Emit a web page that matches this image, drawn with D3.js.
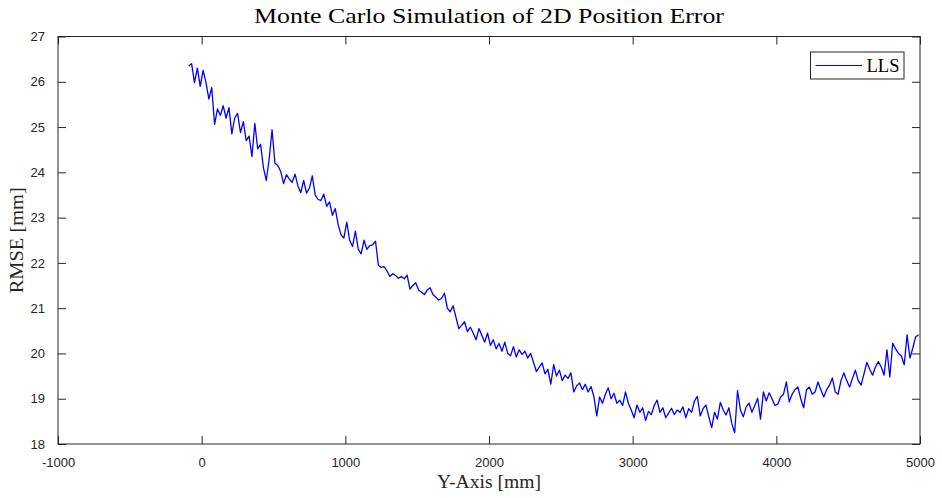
<!DOCTYPE html>
<html>
<head>
<meta charset="utf-8">
<script src="https://cdn.jsdelivr.net/npm/d3@7"></script>
<style>
  html, body { margin: 0; padding: 0; background: #fff; }
  svg { display: block; }
</style>
</head>
<body>
<svg id="chart" width="942" height="498"></svg>
<script>
// ---- Data ----
const titleText = "Monte Carlo Simulation of 2D Position Error";
const xLabelText = "Y-Axis [mm]";
const yLabelText = "RMSE [mm]";
const seriesName = "LLS";
const xTicks = [-1000, 0, 1000, 2000, 3000, 4000, 5000];
const yTicks = [18, 19, 20, 21, 22, 23, 24, 25, 26, 27];
const xStart = -90;
const xStep = 20;
const rmseValues = [
  26.35, 26.40, 25.98, 26.30, 25.90, 26.25, 25.98, 25.62, 25.87, 25.06,
  25.40, 25.26, 25.47, 25.20, 25.43, 24.85, 25.20, 25.30, 24.88, 25.12,
  24.70, 24.80, 24.35, 25.08, 24.52, 24.62, 24.10, 23.82, 24.30, 24.94,
  24.20, 24.15, 24.02, 23.75, 23.95, 23.85, 23.78, 23.96, 23.70, 23.55,
  23.82, 23.54, 23.65, 23.92, 23.50, 23.40, 23.38, 23.52, 23.25, 23.35,
  23.05, 23.20, 22.85, 22.62, 22.55, 22.90, 22.50, 22.36, 22.70, 22.30,
  22.20, 22.50, 22.30, 22.38, 22.40, 22.48, 21.95, 21.90, 21.92, 21.82,
  21.70, 21.76, 21.72, 21.66, 21.70, 21.65, 21.73, 21.42, 21.50, 21.56,
  21.40, 21.35, 21.30, 21.40, 21.45, 21.30, 21.24, 21.18, 21.22, 21.33,
  21.00, 20.92, 21.05, 20.80, 20.55, 20.62, 20.70, 20.48, 20.58, 20.45,
  20.30, 20.55, 20.40, 20.25, 20.45, 20.18, 20.30, 20.10, 20.22, 20.05,
  20.25, 20.00, 19.95, 20.15, 19.92, 20.08, 19.98, 20.05, 19.90, 20.00,
  19.80, 19.60, 19.70, 19.79, 19.55, 19.65, 19.32, 19.75, 19.50, 19.63,
  19.40, 19.52, 19.45, 19.57, 19.15, 19.28, 19.35, 19.20, 19.32, 19.15,
  19.27, 19.05, 18.62, 19.04, 18.90, 19.10, 19.24, 19.00, 19.12, 18.90,
  18.97, 18.85, 19.15, 18.90, 18.75, 18.58, 18.86, 18.70, 18.80, 18.52,
  18.72, 18.65, 18.85, 18.97, 18.70, 18.80, 18.58, 18.68, 18.79, 18.65,
  18.75, 18.70, 18.82, 18.58, 18.78, 18.70, 18.95, 19.05, 18.62, 18.78,
  18.86, 18.60, 18.36, 18.70, 18.55, 18.92, 18.75, 18.64, 18.80, 18.45,
  18.25, 19.18, 18.75, 18.60, 18.82, 18.90, 18.70, 18.85, 19.01, 18.55,
  19.15, 18.95, 19.13, 19.00, 18.85, 18.88, 19.04, 19.10, 19.37, 18.93,
  19.10, 19.20, 19.26, 19.00, 18.80, 19.20, 19.26, 19.10, 19.15, 19.37,
  19.20, 19.04, 19.20, 19.30, 19.46, 19.15, 19.10, 19.40, 19.57, 19.40,
  19.26, 19.45, 19.63, 19.40, 19.30, 19.55, 19.80, 19.65, 19.52, 19.70,
  19.82, 19.70, 19.52, 20.08, 19.48, 20.23, 20.10, 20.00, 19.95, 19.75,
  20.41, 19.90, 20.12, 20.37, 20.41
];
const positions = rmseValues.map((_, i) => xStart + i * xStep);

// ---- Layout ----
const svg = d3.select("#chart");
const margin = { left: 58, right: 22, top: 36.5, bottom: 54 };
const W = 942, H = 498;
const x0 = margin.left, x1 = W - margin.right;
const y0 = margin.top, y1 = H - margin.bottom;
const axisColor = "#262626";
const tickLen = 8;

const x = d3.scaleLinear().domain([-1000, 5000]).range([x0, x1]);
const y = d3.scaleLinear().domain([18, 27]).range([y1, y0]);

// data line (clipped)
svg.append("clipPath").attr("id", "clip")
  .append("rect").attr("x", x0).attr("y", y0).attr("width", x1 - x0).attr("height", y1 - y0);

const line = d3.line().x((d, i) => x(positions[i])).y(d => y(d));
svg.append("path")
  .datum(rmseValues)
  .attr("clip-path", "url(#clip)")
  .attr("fill", "none")
  .attr("stroke", "#0000ff")
  .attr("stroke-width", 1.3)
  .attr("stroke-linejoin", "round")
  .attr("d", line);

// axes
const tickFont = "Liberation Sans, Arial, Helvetica, sans-serif";
const plainFmt = d => String(d);
function styleAxis(g) {
  g.select(".domain").remove();
  g.selectAll(".tick line").attr("stroke", axisColor).attr("stroke-width", 1);
  g.selectAll(".tick text").attr("fill", axisColor)
    .attr("font-family", tickFont).attr("font-size", 13);
}
// bottom
svg.append("g").attr("transform", `translate(0,${y1})`)
  .call(d3.axisBottom(x).tickValues(xTicks).tickSize(-tickLen).tickPadding(tickLen + 6).tickFormat(plainFmt))
  .call(styleAxis);
// top
svg.append("g").attr("transform", `translate(0,${y0})`)
  .call(d3.axisTop(x).tickValues(xTicks).tickSize(-tickLen).tickFormat(""))
  .call(styleAxis);
// left
svg.append("g").attr("transform", `translate(${x0},0)`)
  .call(d3.axisLeft(y).tickValues(yTicks).tickSize(-tickLen).tickPadding(tickLen + 5).tickFormat(plainFmt))
  .call(styleAxis);
// right
svg.append("g").attr("transform", `translate(${x1},0)`)
  .call(d3.axisRight(y).tickValues(yTicks).tickSize(-tickLen).tickFormat(""))
  .call(styleAxis);

// box
svg.append("rect")
  .attr("x", x0).attr("y", y0).attr("width", x1 - x0).attr("height", y1 - y0)
  .attr("fill", "none").attr("stroke", axisColor).attr("stroke-width", 1);

const serif = "'Liberation Serif', serif";
// title
svg.append("text")
  .attr("x", (x0 + x1) / 2).attr("y", 23)
  .attr("text-anchor", "middle")
  .attr("font-family", serif).attr("font-size", 22)
  .attr("textLength", 470).attr("lengthAdjust", "spacingAndGlyphs")
  .attr("fill", "#000")
  .text(titleText);

// x label
svg.append("text")
  .attr("x", (x0 + x1) / 2).attr("y", 488)
  .attr("text-anchor", "middle")
  .attr("font-family", serif).attr("font-size", 18)
  .attr("textLength", 104).attr("lengthAdjust", "spacingAndGlyphs")
  .attr("fill", axisColor)
  .text(xLabelText);

// y label
svg.append("text")
  .attr("transform", `translate(23,${(y0 + y1) / 2}) rotate(-90)`)
  .attr("text-anchor", "middle")
  .attr("font-family", serif).attr("font-size", 18)
  .attr("textLength", 106).attr("lengthAdjust", "spacingAndGlyphs")
  .attr("fill", axisColor)
  .text(yLabelText);

// legend
const lg = svg.append("g");
lg.append("rect")
  .attr("x", 810.5).attr("y", 52).attr("width", 93.5).attr("height", 27)
  .attr("fill", "#fff").attr("stroke", axisColor).attr("stroke-width", 1);
lg.append("line")
  .attr("x1", 815.5).attr("x2", 862).attr("y1", 65.5).attr("y2", 65.5)
  .attr("stroke", "#0000ff").attr("stroke-width", 1.2);
lg.append("text")
  .attr("x", 866.5).attr("y", 71.5)
  .attr("font-family", serif).attr("font-size", 18)
  .attr("textLength", 33).attr("lengthAdjust", "spacingAndGlyphs")
  .attr("fill", "#000")
  .text(seriesName);
</script>
</body>
</html>
